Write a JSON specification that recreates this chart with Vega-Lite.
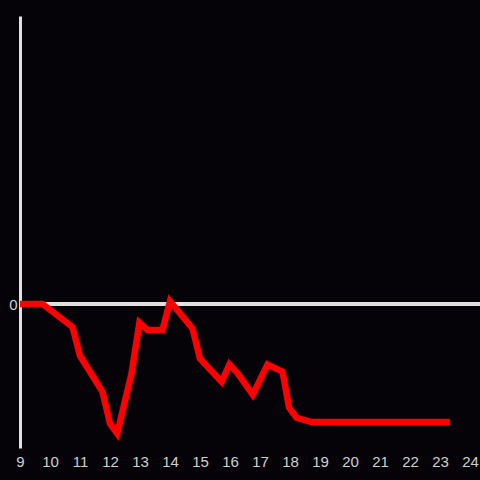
{
  "$schema": "https://vega.github.io/schema/vega-lite/v6.json",
  "width": 460,
  "height": 432,
  "autosize": "none",
  "padding": {"left": 20, "top": 16, "right": 0, "bottom": 32},
  "background": "#050308",
  "config": {"view": {"stroke": null}},
  "data": {"values": [
    {"x": 9.0, "y": 0.0},
    {"x": 9.75, "y": 0.0},
    {"x": 10.75, "y": -0.16},
    {"x": 11.0, "y": -0.36},
    {"x": 11.75, "y": -0.61},
    {"x": 12.0, "y": -0.83},
    {"x": 12.24, "y": -0.9},
    {"x": 12.72, "y": -0.48},
    {"x": 12.98, "y": -0.13},
    {"x": 13.25, "y": -0.18},
    {"x": 13.75, "y": -0.18},
    {"x": 14.0, "y": 0.02},
    {"x": 14.75, "y": -0.17},
    {"x": 15.0, "y": -0.38},
    {"x": 15.72, "y": -0.54},
    {"x": 15.98, "y": -0.42},
    {"x": 16.25, "y": -0.48},
    {"x": 16.76, "y": -0.63},
    {"x": 17.25, "y": -0.42},
    {"x": 17.75, "y": -0.47},
    {"x": 17.97, "y": -0.72},
    {"x": 18.22, "y": -0.79},
    {"x": 18.72, "y": -0.82},
    {"x": 23.33, "y": -0.82}
  ]},
  "layer": [
    {
      "mark": {"type": "rule", "color": "#e0e0e0", "strokeWidth": 3},
      "encoding": {"y": {"datum": 0, "type": "quantitative", "scale": {"domain": [-1, 2]}}}
    },
    {
      "mark": {"type": "line", "color": "#ff0000", "strokeWidth": 6.5, "strokeJoin": "miter"},
      "encoding": {
        "x": {"field": "x", "type": "quantitative", "scale": {"domain": [9, 24.3333], "nice": false, "zero": false},
          "axis": {"values": [9,10,11,12,13,14,15,16,17,18,19,20,21,22,23,24], "format": "d", "title": null, "domain": false, "ticks": false, "grid": false, "labelColor": "#d0d0d0", "labelFontSize": 15, "labelPadding": 6, "labelFont": "Liberation Sans", "labelFlush": false}},
        "y": {"field": "y", "type": "quantitative", "scale": {"domain": [-1, 2], "nice": false},
          "axis": {"values": [0], "format": "d", "title": null, "ticks": false, "grid": false, "domainColor": "#e0e0e0", "domainWidth": 3, "labelColor": "#d0d0d0", "labelFontSize": 15, "labelPadding": 3, "labelFont": "Liberation Sans"}}
      }
    }
  ]
}
